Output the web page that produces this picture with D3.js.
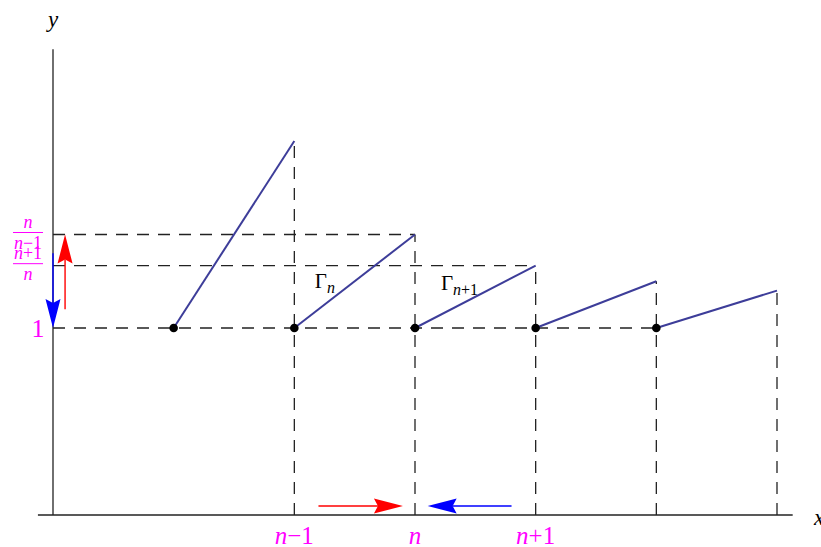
<!DOCTYPE html>
<html>
<head>
<meta charset="utf-8">
<script src="https://cdn.jsdelivr.net/npm/d3@7"></script>
<style>
  html, body { margin: 0; padding: 0; background: #fff; }
  svg { display: block; }
  text { font-family: "Liberation Serif", "DejaVu Serif", serif; }
</style>
</head>
<body>
<svg id="chart" width="821" height="547"></svg>
<script>
// Piecewise linear graph: on [k, k+1] the curve rises from 1 to (k+1)/k
const segStart = [1, 2, 3, 4, 5];
const segEnd = [2, 3, 4, 5, 6];
const segStartValue = [1, 1, 1, 1, 1];
const segEndValue = [2, 1.5, 1.3333, 1.25, 1.2];

// Tick labels on the x axis (n = 3)
const xTickValues = [2, 3, 4];
const xTickLabels = [["n", "−1"], ["n", ""], ["n", "+1"]];

// Fractions marked on the y axis
const yFracValues = [1.5, 1.3333];
const yFracLabels = [["n", "", "n", "−1"], ["n", "+1", "n", ""]];
const yOneValue = 1;

// Horizontal guides: value and the x where each guide stops
const hGuideValues = [1.5, 1.3333, 1];
const hGuideEnds = [3, 4, 5];

// Arrows: [x1, y1, x2, y2] in data units, the head at (x2, y2)
const arrowData = [
  { color: "#ff0000", pts: [0.1, 1.1, 0.1, 1.5] },
  { color: "#0000ff", pts: [0, 1.4, 0, 1.0] },
  { color: "#ff0000", pts: [2.2, 0.048, 2.9, 0.048] },
  { color: "#0000ff", pts: [3.8, 0.048, 3.105, 0.048] }
];

const svg = d3.select("#chart");
const x = d3.scaleLinear().domain([0, 6]).range([53, 777]);
const y = d3.scaleLinear().domain([0, 2]).range([515, 141]);

const curveColor = "rgb(61,61,153)";
const dash = "12,9";
const magenta = "#ff00ff";

// Dashed guides
const guides = svg.append("g")
  .attr("stroke", "#222").attr("stroke-width", 1.3)
  .attr("stroke-dasharray", dash).attr("fill", "none");

hGuideValues.forEach((v, i) => {
  guides.append("line")
    .attr("x1", x(0)).attr("x2", x(hGuideEnds[i]))
    .attr("y1", y(v)).attr("y2", y(v));
});
segEnd.forEach((xe, i) => {
  guides.append("line")
    .attr("x1", x(xe)).attr("x2", x(xe))
    .attr("y1", y(0)).attr("y2", y(segEndValue[i]));
});

// Axes
const axes = svg.append("g").attr("stroke", "#222").attr("stroke-width", 1.3);
axes.append("line")
  .attr("x1", x(-0.125)).attr("x2", x(6.13))
  .attr("y1", y(0)).attr("y2", y(0));
axes.append("line")
  .attr("x1", x(0)).attr("x2", x(0))
  .attr("y1", y(0)).attr("y2", y(2.49));

// Curve segments
svg.append("g").selectAll("line")
  .data(segStart)
  .join("line")
  .attr("x1", d => x(d))
  .attr("y1", (d, i) => y(segStartValue[i]))
  .attr("x2", (d, i) => x(segEnd[i]))
  .attr("y2", (d, i) => y(segEndValue[i]))
  .attr("stroke", curveColor)
  .attr("stroke-width", 2);

// Left end points
svg.append("g").selectAll("circle")
  .data(segStart)
  .join("circle")
  .attr("cx", d => x(d))
  .attr("cy", (d, i) => y(segStartValue[i]))
  .attr("r", 4.3)
  .attr("fill", "#000");

// Arrows
function drawArrow(a) {
  const [x1, y1, x2, y2] = a.pts;
  const px1 = x(x1), py1 = y(y1), px2 = x(x2), py2 = y(y2);
  const ang = Math.atan2(py2 - py1, px2 - px1);
  const len = 29, half = 7.5, notch = 4;
  const g = svg.append("g")
    .attr("transform", `translate(${px2},${py2}) rotate(${ang * 180 / Math.PI})`);
  const total = Math.hypot(px2 - px1, py2 - py1);
  g.append("line")
    .attr("x1", -total).attr("y1", 0)
    .attr("x2", -len + notch).attr("y2", 0)
    .attr("stroke", a.color).attr("stroke-width", 1.4);
  g.append("path")
    .attr("d", `M0,0 L${-len},${-half} L${-len + notch},0 L${-len},${half} Z`)
    .attr("fill", a.color);
}
arrowData.forEach(drawArrow);

// x tick labels
const xt = svg.append("g").attr("fill", magenta).attr("font-size", 25)
  .attr("text-anchor", "middle");
xTickValues.forEach((v, i) => {
  const t = xt.append("text").attr("x", x(v)).attr("y", 544);
  t.append("tspan").attr("font-style", "italic").text(xTickLabels[i][0]);
  if (xTickLabels[i][1]) t.append("tspan").text(xTickLabels[i][1]);
});

// y axis labels: the "1" and two stacked fractions
svg.append("text")
  .attr("x", 38).attr("y", y(yOneValue) + 9)
  .attr("text-anchor", "middle")
  .attr("font-size", 26).attr("fill", magenta)
  .text("1");

const fx = 28;
yFracValues.forEach((v, i) => {
  const lab = yFracLabels[i];
  const barY = y(v) - 2;
  const g = svg.append("g").attr("fill", magenta).attr("font-size", 18)
    .attr("text-anchor", "middle");
  const num = g.append("text").attr("x", fx).attr("y", barY - 5);
  num.append("tspan").attr("font-style", "italic").text(lab[0]);
  if (lab[1]) num.append("tspan").text(lab[1]);
  const den = g.append("text").attr("x", fx).attr("y", barY + 16);
  den.append("tspan").attr("font-style", "italic").text(lab[2]);
  if (lab[3]) den.append("tspan").text(lab[3]);
  svg.append("line")
    .attr("x1", fx - 15).attr("x2", fx + 15)
    .attr("y1", barY).attr("y2", barY)
    .attr("stroke", magenta).attr("stroke-width", 1);
});

// Curve labels Γ_n and Γ_{n+1}
function gammaLabel(xv, yv, sub, rest) {
  const t = svg.append("text").attr("x", x(xv)).attr("y", y(yv))
    .attr("font-size", 21).attr("fill", "#000");
  t.append("tspan").text("Γ");
  t.append("tspan").attr("dy", 5).attr("font-size", 16)
    .attr("font-style", "italic").text(sub);
  if (rest) t.append("tspan").attr("font-size", 16).text(rest);
}
gammaLabel(2.17, 1.215, "n", "");
gammaLabel(3.215, 1.205, "n", "+1");

// Axis names
svg.append("text").attr("x", 48).attr("y", 27)
  .attr("font-size", 23).attr("font-style", "italic").text("y");
svg.append("text").attr("x", 814).attr("y", 525)
  .attr("font-size", 23).attr("font-style", "italic").text("x");
</script>
</body>
</html>
